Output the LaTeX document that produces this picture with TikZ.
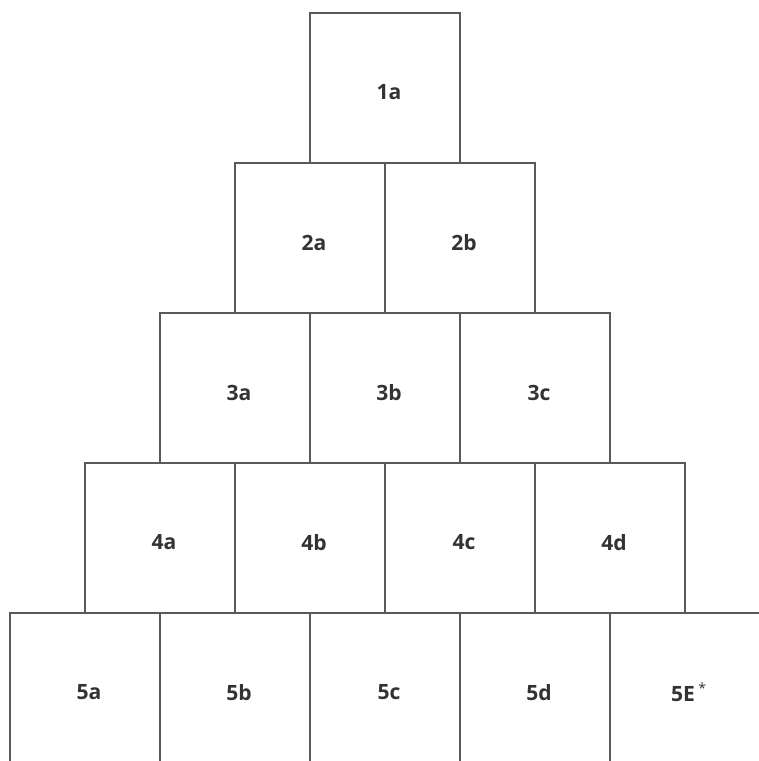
\documentclass[tikz,border=0pt]{standalone}
\usepackage{fontspec}
\setmainfont{Open Sans}
\tikzset{
  block/.style={
    draw=black!65,
    line width=0.6pt,
    minimum width=3cm,
    minimum height=3cm,
    inner sep=0pt
  },
  tag/.style={
    font=\bfseries\fontsize{12}{14}\selectfont,
    text=black!80,
    xshift=0.08cm,
    yshift=-0.09cm
  }
}
\begin{document}
\begin{tikzpicture}[x=0.02cm,y=-0.02cm]
  \useasboundingbox (0,0) rectangle (759,761);
  \foreach \r/\c/\n/\txt in {1/0/1a/1a,
      2/0/2a/2a, 2/1/2b/2b,
      3/0/3a/3a, 3/1/3b/3b, 3/2/3c/3c,
      4/0/4a/4a, 4/1/4b/4b, 4/2/4c/4c, 4/3/4d/4d,
      5/0/5a/5a, 5/1/5b/5b, 5/2/5c/5c, 5/3/5d/5d, 5/4/5e/{5E\,\textsuperscript{\mdseries *}}}{
    \node[block,label={[tag]center:\txt}] (b\n) at ({385-(\r-1)*75+\c*150},{88+(\r-1)*150}) {};
  }
\end{tikzpicture}
\end{document}
